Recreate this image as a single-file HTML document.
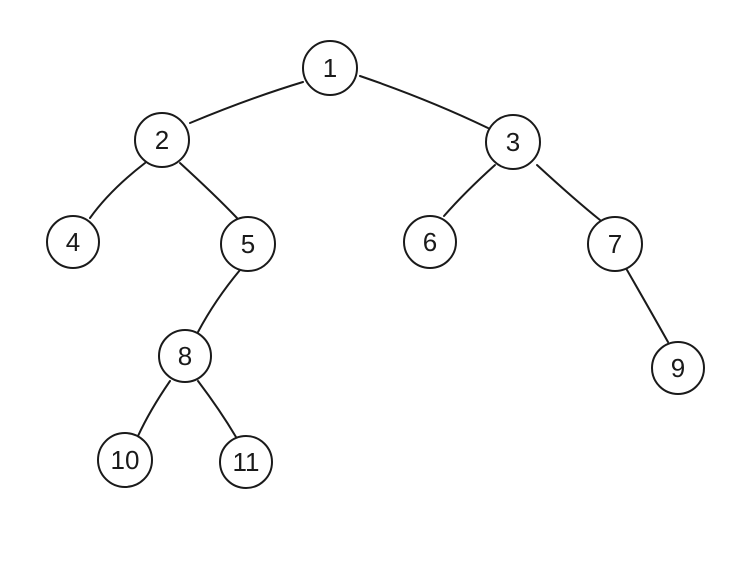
<!DOCTYPE html>
<html><head><meta charset="utf-8"><style>
html,body{margin:0;padding:0;background:#fff;}
svg{display:block;}
text{font-family:"Liberation Sans",sans-serif;font-size:26px;fill:#1a1a1a;text-anchor:middle;dominant-baseline:central;}
</style></head><body>
<svg width="737" height="573" viewBox="0 0 737 573" xmlns="http://www.w3.org/2000/svg">
<g stroke="#1a1a1a" stroke-width="2" fill="none" stroke-linecap="round">
<path d="M303 82 Q250 98 190 123"/>
<path d="M360 76 Q430 100 488 128"/>
<path d="M145 163 Q110 190 90 218"/>
<path d="M180 163 Q215 195 237 218"/>
<path d="M495 165 Q465 192 444 216"/>
<path d="M537 165 Q575 200 600 220"/>
<path d="M240 270 Q215 300 198 332"/>
<path d="M627 270 Q650 310 668 342"/>
<path d="M170 381 Q150 410 138 436"/>
<path d="M198 381 Q220 410 236 437"/>
<circle cx="330" cy="68" r="27"/>
<circle cx="162" cy="140" r="27"/>
<circle cx="513" cy="142" r="27"/>
<circle cx="73" cy="242" r="26"/>
<circle cx="248" cy="244" r="27"/>
<circle cx="430" cy="242" r="26"/>
<circle cx="615" cy="244" r="27"/>
<circle cx="185" cy="356" r="26"/>
<circle cx="678" cy="368" r="26"/>
<circle cx="125" cy="460" r="27"/>
<circle cx="246" cy="462" r="26"/>
</g>
<text x="330" y="68">1</text>
<text x="162" y="140">2</text>
<text x="513" y="142">3</text>
<text x="73" y="242">4</text>
<text x="248" y="244">5</text>
<text x="430" y="242">6</text>
<text x="615" y="244">7</text>
<text x="185" y="356">8</text>
<text x="678" y="368">9</text>
<text x="125" y="460">10</text>
<text x="246" y="462">11</text>
</svg>
</body></html>
